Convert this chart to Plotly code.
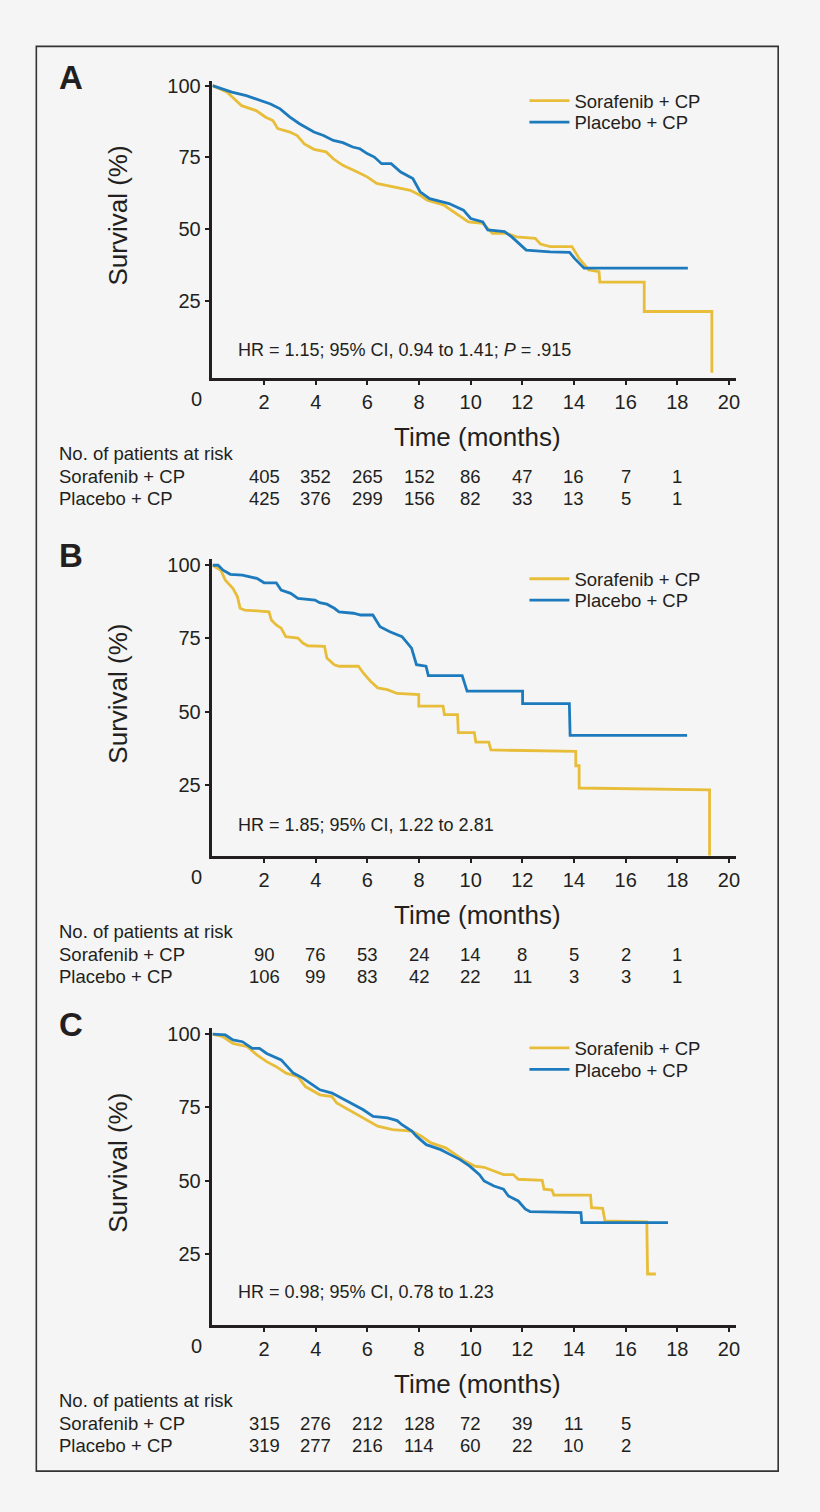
import plotly.graph_objects as go

# Kaplan-Meier curves: (months, survival %)
a_sor = [(0, 100), (0.57, 97.7), (1.13, 93), (1.69, 91.3), (2.06, 89), (2.34, 87.8), (2.53, 85),
         (3.0, 83.8), (3.28, 82.6), (3.56, 79.7), (3.93, 77.8), (4.4, 76.9), (4.68, 74.5), (5.05, 72.2),
         (5.61, 69.9), (5.99, 68.2), (6.36, 65.9), (7.1, 64.4), (7.66, 63.5), (8.04, 61.8), (8.32, 60.1),
         (8.97, 58.3), (9.35, 56), (9.91, 52.5), (10.47, 52), (10.84, 48.5), (11.4, 48.5), (11.77, 47.3),
         (12.5, 46.8), (12.7, 44.8), (13.08, 43.9), (13.92, 43.9), (14.2, 39.8), (14.57, 35.8),
         (14.97, 35.2), (15.0, 31.5), (16.72, 31.5), (16.72, 21.3), (19.34, 21.3), (19.34, 0)]
a_pla = [(0, 100), (0.75, 97.7), (1.31, 96.5), (1.87, 94.8), (2.25, 93.6), (2.62, 91.9), (3.0, 89),
         (3.37, 86.7), (3.93, 83.8), (4.3, 82.6), (4.68, 80.9), (5.05, 80.1), (5.43, 78.6), (5.71, 78),
         (5.99, 76.3), (6.27, 75.1), (6.55, 72.8), (6.92, 72.8), (7.29, 69.9), (7.76, 67.6), (8.04, 63),
         (8.41, 60.6), (9.16, 58.9), (9.72, 56.6), (10.0, 53.7), (10.47, 52.5), (10.66, 49.7),
         (11.31, 49.1), (11.59, 47.3), (12.15, 42.7), (13.08, 42.1), (13.83, 41.9), (14.02, 39.8),
         (14.39, 36.4), (18.41, 36.4)]

b_sor = [(0, 100), (0.32, 98.3), (0.5, 94.9), (0.79, 92.1), (0.97, 89.2), (1.07, 85.3), (1.25, 84.7),
         (1.72, 84.5), (2.19, 84.1), (2.28, 81.3), (2.47, 79.6), (2.66, 78.5), (2.84, 75.6), (3.31, 75.1),
         (3.5, 73.4), (3.69, 72.5), (4.34, 72.3), (4.43, 68.3), (4.72, 66), (4.9, 65.5), (5.65, 65.5),
         (5.84, 63.2), (6.12, 60.4), (6.4, 58.1), (6.77, 57.5), (7.15, 56.2), (7.71, 55.8), (7.99, 55.8),
         (7.99, 51.9), (8.93, 51.9), (8.98, 49.0), (9.49, 49.0), (9.52, 42.8), (10.14, 42.8), (10.2, 39.6),
         (10.7, 39.6), (10.78, 36.9), (13.5, 36.6), (14.07, 36.4), (14.07, 31.5), (14.2, 31.5),
         (14.2, 23.9), (19.25, 23.3), (19.25, 0)]
b_pla = [(0, 100), (0.22, 100), (0.41, 98.3), (0.69, 96.9), (1.16, 96.6), (1.72, 95.5), (2.0, 94),
         (2.47, 94), (2.66, 91.5), (3.03, 90.4), (3.31, 88.7), (3.97, 88.1), (4.15, 87.2), (4.43, 86.7),
         (4.72, 85.3), (4.9, 84.1), (5.46, 83.6), (5.74, 83.0), (6.21, 83.0), (6.49, 79), (6.87, 77.3),
         (7.34, 75.6), (7.71, 71.7), (7.9, 66), (8.27, 65.5), (8.36, 62.3), (9.67, 62.3), (9.86, 57.0),
         (12.01, 57.0), (12.01, 52.7), (13.82, 52.7), (13.85, 41.9), (18.38, 41.9)]

c_sor = [(0, 100), (0.41, 99.1), (0.79, 96.8), (1.35, 95.7), (1.72, 92.9), (2.1, 90.6), (2.47, 88.9),
         (2.85, 86.7), (3.31, 85.5), (3.6, 82.1), (4.16, 79.3), (4.63, 78.7), (4.81, 76.5), (5.28, 74.2),
         (5.84, 71.4), (6.4, 68.6), (6.97, 67.4), (7.72, 66.9), (8.09, 65.2), (8.46, 62.9), (9.03, 61.2),
         (9.4, 58.9), (9.78, 56.7), (10.15, 55), (10.52, 54.6), (10.9, 53.3), (11.27, 52.1), (11.65, 52.1),
         (11.84, 50.5), (12.77, 50.1), (12.84, 47.1), (13.15, 46.8), (13.22, 45.1), (14.64, 45.1),
         (14.68, 40.8), (15.11, 40.6), (15.2, 36.3), (16.82, 36.0), (16.85, 18.2), (17.17, 18.2)]
c_pla = [(0, 100), (0.5, 99.7), (0.79, 98), (1.16, 97.4), (1.54, 95.1), (1.82, 95.1), (2.1, 93.4),
         (2.66, 91.2), (3.13, 86.7), (3.5, 85), (3.78, 83.3), (4.16, 81), (4.63, 79.9), (5.0, 78.2),
         (5.37, 76.5), (5.84, 74.2), (6.22, 71.9), (6.78, 71.4), (7.15, 70.5), (7.34, 69.1), (7.72, 66.9),
         (7.9, 65.2), (8.28, 62.3), (8.84, 60.6), (9.21, 58.9), (9.59, 57.2), (9.96, 55.0), (10.34, 52.1),
         (10.52, 49.9), (10.9, 48.2), (11.27, 47.1), (11.46, 44.8), (11.84, 43.1), (12.12, 40.3),
         (12.3, 39.5), (14.27, 39.1), (14.3, 35.7), (17.64, 35.7)]

# patients at risk, shown under the ticks
risk_times = [2, 4, 6, 8, 10, 12, 14, 16, 18]
a_risk_sor = [405, 352, 265, 152, 86, 47, 16, 7, 1]
a_risk_pla = [425, 376, 299, 156, 82, 33, 13, 5, 1]
b_risk_sor = [90, 76, 53, 24, 14, 8, 5, 2, 1]
b_risk_pla = [106, 99, 83, 42, 22, 11, 3, 3, 1]
c_risk_sor = [315, 276, 212, 128, 72, 39, 11, 5]
c_risk_pla = [319, 277, 216, 114, 60, 22, 10, 2]

hr_texts = ["HR = 1.15; 95% CI, 0.94 to 1.41; <i>P</i> = .915",
            "HR = 1.85; 95% CI, 1.22 to 2.81",
            "HR = 0.98; 95% CI, 0.78 to 1.23"]
hr_y = [8, 11.3, 12]
letters = ["A", "B", "C"]

W, H = 820, 1512
YEL = "#e8bd3a"
BLU = "#1d7bbd"
INK = "#231f20"
FONT = "Liberation Sans, Arial, sans-serif"

# panel boxes in pixels: (top, bottom) of the plot area
panels = [(75, 373), (555, 853), (1026, 1324)]
yranges = [[-1.7, 101.7], [0.8, 102.2], [0.9, 102.1]]
x_px = (213.5, 739.5)

curves = [(a_sor, a_pla), (b_sor, b_pla), (c_sor, c_pla)]
risks = [(a_risk_sor, a_risk_pla), (b_risk_sor, b_risk_pla), (c_risk_sor, c_risk_pla)]

fig = go.Figure()
annos = []

for i in range(3):
    n = "" if i == 0 else str(i + 1)
    top, bot = panels[i]
    sor, pla = curves[i]
    # one legend per series so the rows sit as close as in the original
    leg_s = "legend" + ("" if i == 0 else str(2 * i + 1))
    leg_p = "legend" + str(2 * i + 2)
    fig.add_trace(go.Scatter(x=[p[0] for p in sor], y=[p[1] for p in sor], mode="lines",
                             line=dict(color=YEL, width=2.8), name="Sorafenib + CP",
                             xaxis="x" + n, yaxis="y" + n, legend=leg_s, showlegend=True))
    fig.add_trace(go.Scatter(x=[p[0] for p in pla], y=[p[1] for p in pla], mode="lines",
                             line=dict(color=BLU, width=2.8), name="Placebo + CP",
                             xaxis="x" + n, yaxis="y" + n, legend=leg_p, showlegend=True))

    legstyle = dict(xanchor="left", yanchor="middle", bgcolor="rgba(0,0,0,0)",
                    font=dict(size=18.5, color=INK, family=FONT), itemwidth=40)
    fig.update_layout(**{
        "xaxis" + n: dict(domain=[x_px[0] / W, x_px[1] / W], range=[0, 20.27], anchor="y" + n,
                          showline=True, linewidth=2.5, linecolor=INK, showgrid=False, zeroline=False,
                          ticks="outside", ticklen=5, tickwidth=1.5, tickcolor=INK,
                          tickvals=list(range(2, 21, 2)), tickfont=dict(size=20, color=INK, family=FONT)),
        "yaxis" + n: dict(domain=[1 - bot / H, 1 - top / H], range=yranges[i], anchor="x" + n,
                          showline=True, linewidth=2.5, linecolor=INK, showgrid=False, zeroline=False,
                          ticks="outside", ticklen=5, tickwidth=1.5, tickcolor=INK,
                          tickvals=[25, 50, 75, 100], tickfont=dict(size=20, color=INK, family=FONT)),
        leg_s: dict(x=527 / W, y=1 - (top + 20.5) / H, visible=True, **legstyle),
        leg_p: dict(x=527 / W, y=1 - (top + 42) / H, visible=True, **legstyle),
    })

    xr, yr = "x" + n, "y" + n
    # origin label
    annos.append(dict(x=0, y=0, xref=xr, yref=yr + " domain", xshift=-16, yshift=-21, text="0",
                      showarrow=False, xanchor="center", yanchor="middle",
                      font=dict(size=20, color=INK, family=FONT)))
    # axis titles
    annos.append(dict(x=0.5, y=0, xref=xr + " domain", yref=yr + " domain", xshift=3, yshift=-59,
                      text="Time (months)", showarrow=False, yanchor="middle",
                      font=dict(size=26, color=INK, family=FONT)))
    annos.append(dict(x=0, y=0.5, xref=xr + " domain", yref=yr + " domain", xshift=-94, yshift=14,
                      text="Survival (%)", textangle=-90, showarrow=False, xanchor="center",
                      yanchor="middle", font=dict(size=26, color=INK, family=FONT)))
    # hazard ratio
    annos.append(dict(x=0, y=hr_y[i], xref=xr, yref=yr, xshift=24, text=hr_texts[i], showarrow=False,
                      xanchor="left", yanchor="middle", font=dict(size=18, color=INK, family=FONT)))
    # panel letter
    annos.append(dict(x=57 / W, y=1 - (top - 3) / H, xref="paper", yref="paper", text="<b>%s</b>" % letters[i],
                      showarrow=False, xanchor="left", yanchor="middle",
                      font=dict(size=33, color=INK, family=FONT)))
    # risk table
    rows = [("No. of patients at risk", 76, None), ("Sorafenib + CP", 99, risks[i][0]),
            ("Placebo + CP", 121, risks[i][1])]
    for label, dy, vals in rows:
        annos.append(dict(x=57 / W, y=0, xref="paper", yref=yr + " domain", yshift=-dy, text=label,
                          showarrow=False, xanchor="left", yanchor="middle",
                          font=dict(size=18.5, color=INK, family=FONT)))
        if vals:
            for t, v in zip(risk_times, vals):
                annos.append(dict(x=t, y=0, xref=xr, yref=yr + " domain", yshift=-dy, text=str(v),
                                  showarrow=False, xanchor="center", yanchor="middle",
                                  font=dict(size=18.5, color=INK, family=FONT)))

fig.update_layout(
    width=W, height=H, margin=dict(l=0, r=0, t=0, b=0), showlegend=True,
    paper_bgcolor="#f5f5f5", plot_bgcolor="#f5f5f5",
    annotations=annos,
    shapes=[dict(type="rect", xref="paper", yref="paper", x0=36.5 / W, x1=782 / W,
                 y0=1 - 1471 / H, y1=1 - 40.5 / H, line=dict(color="#333333", width=1.6))],
)

# drop the browser's default page margin so the figure sits at the window's corner
fig.write_html("out.html", config={"displayModeBar": False},
               post_script="document.body.style.margin='0';document.body.style.overflow='hidden';")
